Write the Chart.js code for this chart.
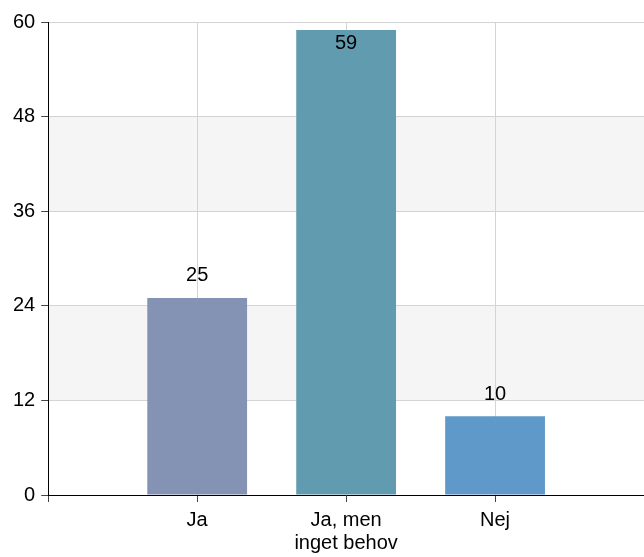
<!DOCTYPE html>
<html>
<head>
<meta charset="utf-8">
<script src="https://cdn.jsdelivr.net/npm/chart.js@4"></script>
<style>
  html, body { margin: 0; padding: 0; background: #fff; overflow: hidden; }
  #wrap { width: 644px; height: 557px; position: relative; }
</style>
</head>
<body>
<div id="wrap"><canvas id="chart"></canvas></div>
<script>
// values
const categories = ['', 'Ja', ['Ja, men', 'inget behov'], 'Nej', ''];
const answers = [null, 25, 59, 10, null];
const barColors = ['#fff', '#8493b3', '#619bb0', '#5f99c9', '#fff'];
const yTicks = [0, 12, 24, 36, 48, 60];

const FONT = '"Liberation Sans", Arial, sans-serif';

// light grey bands between every other pair of gridlines
const bands = {
    id: 'bands',
    beforeDraw(chart) {
        const { ctx, chartArea, scales } = chart;
        const y = scales.y;
        ctx.save();
        ctx.fillStyle = '#f5f5f5';
        for (let i = 1; i < yTicks.length - 1; i += 2) {
            const top = y.getPixelForValue(yTicks[i + 1]);
            const bottom = y.getPixelForValue(yTicks[i]);
            ctx.fillRect(chartArea.left, top, chartArea.right - chartArea.left, bottom - top);
        }
        ctx.restore();
    }
};

// value on top of each bar, pushed inside when there is no room
const valueLabels = {
    id: 'valueLabels',
    afterDatasetsDraw(chart) {
        const { ctx, chartArea } = chart;
        const meta = chart.getDatasetMeta(0);
        ctx.save();
        ctx.font = '20px ' + FONT;
        ctx.fillStyle = '#000';
        ctx.textAlign = 'center';
        ctx.textBaseline = 'middle';
        meta.data.forEach((bar, i) => {
            const v = answers[i];
            if (v === null) return;
            let ty = bar.y - 22;
            if (ty - 10 < chartArea.top) ty = bar.y + 14;
            ctx.fillText(String(v), bar.x, ty);
        });
        ctx.restore();
    }
};

new Chart(document.getElementById('chart'), {
    type: 'bar',
    data: {
        labels: categories,
        datasets: [{
            data: answers,
            backgroundColor: barColors,
            borderWidth: 0,
            categoryPercentage: 1,
            barPercentage: 0.67
        }]
    },
    options: {
        responsive: true,
        maintainAspectRatio: false,
        animation: false,
        layout: { padding: { top: 22, left: 7, right: 0, bottom: 2 } },
        plugins: {
            legend: { display: false },
            tooltip: { enabled: false }
        },
        scales: {
            x: {
                offset: false,
                afterFit: scale => {
                    scale.paddingLeft = 0;
                    scale.paddingRight = 0;
                    scale.height = 60;
                },
                grid: {
                    offset: false,
                    color: ctx => ctx.index === 0 ? 'rgba(0,0,0,0)' : '#d4d4d4',
                    tickColor: '#444',
                    tickLength: 7,
                    drawOnChartArea: true
                },
                border: { color: '#000', width: 1 },
                ticks: {
                    color: '#000',
                    font: { family: FONT, size: 20, lineHeight: 1.15 },
                    padding: 7,
                    maxRotation: 0,
                    autoSkip: false
                }
            },
            y: {
                min: 0,
                max: 60,
                grid: {
                    color: ctx => ctx.tick && ctx.tick.value === 0 ? 'rgba(0,0,0,0)' : '#d4d4d4',
                    tickColor: '#444',
                    tickLength: 7
                },
                border: { color: '#000', width: 1 },
                afterBuildTicks: axis => { axis.ticks = yTicks.map(v => ({ value: v })); },
                ticks: {
                    color: '#000',
                    font: { family: FONT, size: 20 },
                    padding: 6
                }
            }
        }
    },
    plugins: [bands, valueLabels]
});
</script>
</body>
</html>
